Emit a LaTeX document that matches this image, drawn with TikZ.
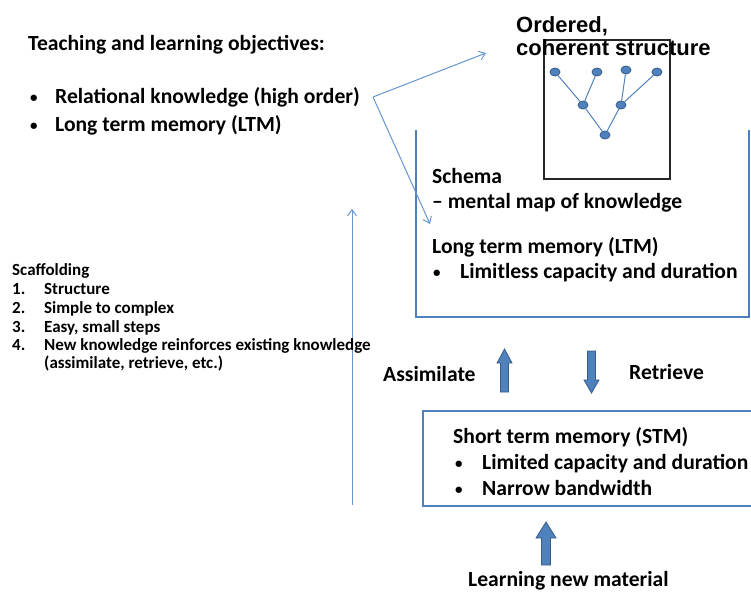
\documentclass[tikz,border=0pt]{standalone}
\usepackage{fontspec}
\setmainfont{Carlito}
\newfontfamily\arialfont{Liberation Sans}
\usetikzlibrary{arrows.meta,shapes.geometric}
\definecolor{lineblue}{RGB}{79,129,189}
\definecolor{thinblue}{RGB}{100,150,210}
\definecolor{arrowfill}{RGB}{79,129,189}
\definecolor{arrowedge}{RGB}{56,93,138}
\begin{document}
\begin{tikzpicture}[x=1pt,y=-1pt,
  txt/.style={anchor=base west,inner sep=0,yshift=-1.5pt,font=\fontsize{21.6}{24}\selectfont\bfseries},
  bul/.style={anchor=base west,inner sep=0,yshift=-1.5pt,font=\fontsize{15}{18}\selectfont\bfseries},
  smalltxt/.style={anchor=base west,inner sep=0,font=\fontsize{17}{20}\selectfont\bfseries},
  ordtxt/.style={anchor=base west,inner sep=0,font=\arialfont\fontsize{22}{24}\selectfont\bfseries},
  dot/.style={ellipse,minimum width=10pt,minimum height=8pt,inner sep=0,fill=arrowfill,draw=arrowedge,line width=0.8pt},
  treeedge/.style={draw=lineblue,line width=1pt},
  boxline/.style={draw=lineblue,line width=1.8pt},
  thinarrow/.style={draw=thinblue,line width=1pt,-{Straight Barb[length=6pt,width=9pt]}},
  blockarrow/.style={fill=arrowfill,draw=arrowedge,line width=0.8pt}]
\useasboundingbox (0,0) rectangle (751,592);

% objectives
\node[txt] (objtitle) at (28,49) {Teaching and learning objectives:};
\node[bul] (bulA) at (30,101) {•};
\node[txt] (rel) at (55,102) {Relational knowledge (high order)};
\node[bul] (bulB) at (30,129) {•};
\node[txt] (ltmobj) at (55,130) {Long term memory (LTM)};

% ordered structure
\draw[line width=1.3pt,black!85] (544,40) rectangle (670,179);
\node[ordtxt] (ord1) at (516,32) {Ordered,};
\node[ordtxt] (ord2) at (516,55) {coherent structure};
\node[dot] (t1) at (555,72) {};
\node[dot] (t2) at (597,72) {};
\node[dot] (t3) at (626,70) {};
\node[dot] (t4) at (657,72) {};
\node[dot] (m1) at (583,105) {};
\node[dot] (m2) at (621,105) {};
\node[dot] (r) at (605,135) {};
\path[treeedge] (t1) -- (m1) (t2) -- (m1) (m1) -- (r) (t3) -- (m2) (t4) -- (m2) (m2) -- (r);

% LTM box
\draw[boxline] (416,130) -- (416,317) -- (749,317) -- (749,130);
\node[txt] (schema) at (432,182) {Schema};
\node[txt] (mental) at (432,207) {– mental map of knowledge};
\node[txt] (ltm) at (432,252) {Long term memory (LTM)};
\node[bul] (bulC) at (433,276) {•};
\node[txt] (limitless) at (460,277) {Limitless capacity and duration};

% fork arrows
\coordinate (fork) at (373,97);
\coordinate (ordtip) at (486,53);
\coordinate (ltmtip) at (430,224);
\draw[thinarrow] (fork) -- (ordtip);
\draw[thinarrow] (fork) -- (ltmtip);

% long vertical arrow
\coordinate (vbot) at (352,505);
\coordinate (vtop) at (352,209);
\draw[thinarrow] (vbot) -- (vtop);

% scaffolding
\node[smalltxt] (scaf) at (12,275) {Scaffolding};
\node[smalltxt] (n1) at (12,294.5) {1.};
\node[smalltxt] (s1) at (44,294.5) {Structure};
\node[smalltxt] (n2) at (12,313.5) {2.};
\node[smalltxt] (s2) at (44,313.5) {Simple to complex};
\node[smalltxt] (n3) at (12,332.5) {3.};
\node[smalltxt] (s3) at (44,332.5) {Easy, small steps};
\node[smalltxt] (n4) at (12,350.5) {4.};
\node[smalltxt] (s4) at (44,350.5) {New knowledge reinforces existing knowledge};
\node[smalltxt] (s4b) at (44,368.5) {(assimilate, retrieve, etc.)};

% assimilate / retrieve
\node[txt] (assim) at (383,380) {Assimilate};
\node[txt] (retr) at (629,378) {Retrieve};
\draw[blockarrow] (500.5,392) -- (500.5,363) -- (497,363) -- (504.5,349) -- (512,363) -- (508.5,363) -- (508.5,392) -- cycle;
\draw[blockarrow] (587.5,351) -- (587.5,380) -- (584,380) -- (591.5,393) -- (599,380) -- (595.5,380) -- (595.5,351) -- cycle;

% STM box
\draw[boxline] (753,411) -- (423,411) -- (423,506) -- (753,506);
\node[txt] (stm) at (453,442) {Short term memory (STM)};
\node[bul] (bulD) at (455,467) {•};
\node[txt] (limited) at (482,468) {Limited capacity and duration};
\node[bul] (bulE) at (455,493) {•};
\node[txt] (narrow) at (482,494) {Narrow bandwidth};

% learning new material
\draw[blockarrow] (541.5,565) -- (541.5,538) -- (536,538) -- (546,522) -- (556,538) -- (550.5,538) -- (550.5,565) -- cycle;
\node[txt] (learn) at (468,585) {Learning new material};
\end{tikzpicture}
\end{document}
